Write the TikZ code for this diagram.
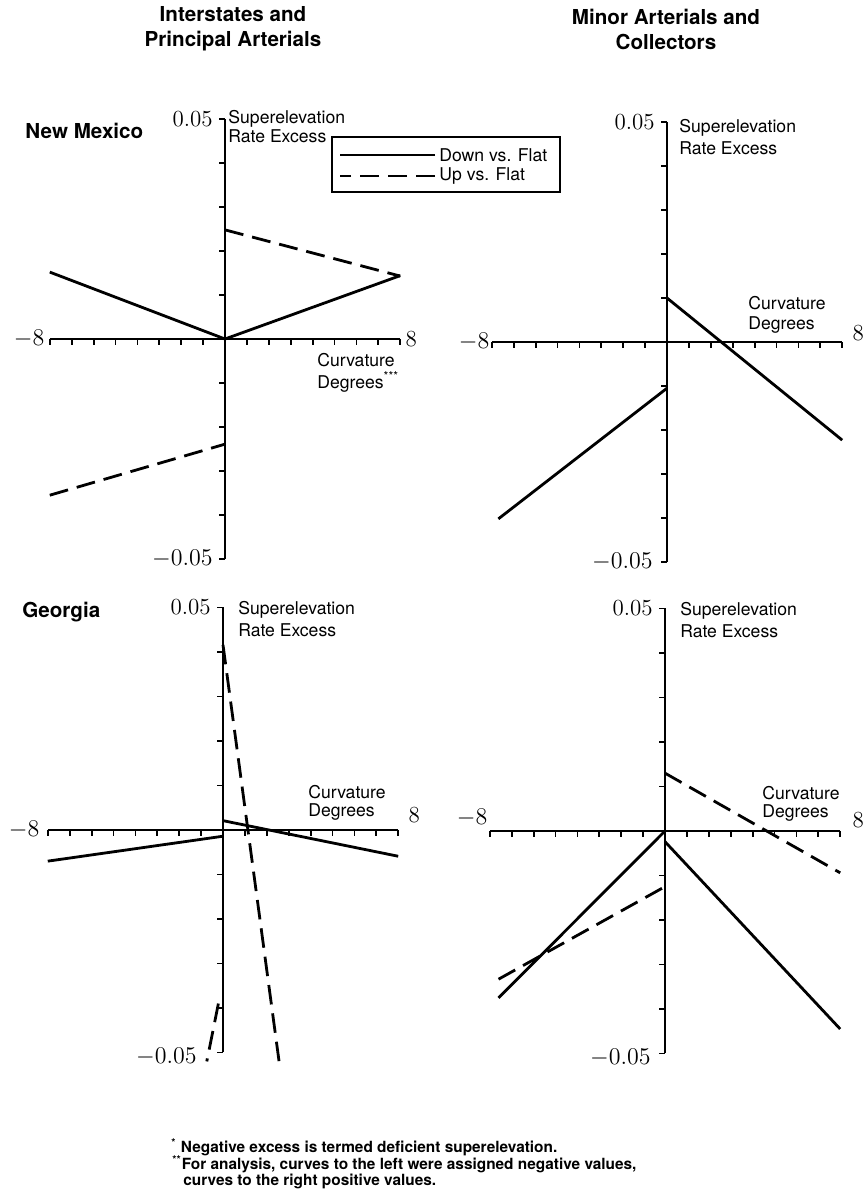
\documentclass[tikz,border=0pt]{standalone}
\usepackage{fontspec}
\newfontfamily\heros{TeX Gyre Heros}
\usepackage{tikz}
\usetikzlibrary{positioning,calc}

\begin{document}
\begin{tikzpicture}[x=0.5pt,y=0.5pt,
  axis/.style={line width=0.9pt},
  curve/.style={line width=1.4pt},
  dashcurve/.style={curve,dash pattern=on 9.5pt off 4.5pt},
  title/.style={font=\heros\bfseries\fontsize{10.3}{12.5}\selectfont,align=center},
  region/.style={font=\heros\bfseries\fontsize{10.3}{12}\selectfont,anchor=west,inner sep=0pt},
  lbl/.style={font=\heros\fontsize{8.8}{10}\selectfont,anchor=west,inner sep=0pt},
  num/.style={font=\fontsize{11.5}{13}\selectfont,inner sep=0pt},
  note/.style={font=\heros\bfseries\fontsize{7.7}{9}\selectfont,anchor=west,inner sep=0pt},
  panel tl/.style={shift={(225,862)},x=10.95pt,y=22pt},
  panel tr/.style={shift={(667,859)},x=10.95pt,y=22pt},
  panel bl/.style={shift={(223,371)},x=10.95pt,y=22.25pt},
  panel br/.style={shift={(665,370)},x=10.95pt,y=22.25pt}]

\useasboundingbox (0,0) rectangle (864,1201);

% Column titles
\node[title] (colA) at (233,1172) {Interstates and\\Principal Arterials};
\node[title] (colB) at (666,1172) {Minor Arterials and\\Collectors};

% State names
\node[region] (nm) at (25,1070) {New Mexico};
\node[region] (ga) at (22,589) {Georgia};

% Axes with ticks
\foreach \p in {tl,tr,bl,br}{
  \begin{scope}[panel \p]
    \draw[axis] (-8,0) -- (8,0);
    \draw[axis] (0,-5) -- (0,5);
    \foreach \i in {-8,...,8} \draw[axis] (\i,0) -- ++(0pt,-3pt);
    \foreach \j in {-5,...,5} \draw[axis] (0,\j) -- ++(-3pt,0pt);
  \end{scope}
}

% New Mexico, interstates
\begin{scope}[panel tl]
  \draw[curve] (-8,1.52) -- (0,0) -- (8,1.44);
  \draw[dashcurve] (0,2.48) -- (8,1.43);
  \draw[dashcurve] (-8,-3.55) -- (0,-2.39);
  \node[num,left=6pt] (tl-top) at (0,5) {0.05};
  \node[num,left=6pt] (tl-bot) at (0,-5) {$-0.05$};
  \node[num,left=2.5pt] (tl-lo) at (-8,0) {$-8$};
  \node[num,right=2.5pt] (tl-hi) at (8,0) {8};
  \node[lbl] (tl-sup) at (0.14,5) {Superelevation};
  \node[lbl] (tl-rate) at (0.14,4.61) {Rate Excess};
  \node[lbl] (tl-curv) at (4.2,-0.48) {Curvature};
  \node[lbl] (tl-deg) at (4.2,-0.98) {Degrees\textsuperscript{***}};
\end{scope}

% New Mexico, minor arterials
\begin{scope}[panel tr]
  \draw[curve] (0,1.0) -- (8,-2.23);
  \draw[curve] (-7.7,-4.02) -- (0,-1.05);
  \node[num,left=6pt] (tr-top) at (0,5) {0.05};
  \node[num,left=7pt] (tr-bot) at (0,-5) {$-0.05$};
  \node[num,left=1pt] (tr-lo) at (-8,0) {$-8$};
  \node[num,right=5pt] (tr-hi) at (8,0.2) {8};
  \node[lbl] (tr-sup) at (0.55,4.86) {Superelevation};
  \node[lbl] (tr-rate) at (0.55,4.41) {Rate Excess};
  \node[lbl] (tr-curv) at (3.7,0.89) {Curvature};
  \node[lbl] (tr-deg) at (3.7,0.39) {Degrees};
\end{scope}

% Georgia, interstates
\begin{scope}[panel bl]
  \draw[curve] (-8,-0.70) -- (0,-0.14);
  \draw[curve] (0,0.21) -- (8,-0.59);
  \draw[dashcurve,dash pattern=on 9.8pt off 4.5pt] (0,4.16) -- (2.56,-5.2);
  \draw[dashcurve] (-0.21,-3.9) -- (-0.74,-5.2);
  \node[num,left=6pt] (bl-top) at (0,5) {0.05};
  \node[num,left=13pt] (bl-bot) at (0,-5.1) {$-0.05$};
  \node[num,left=4pt] (bl-lo) at (-8,0) {$-8$};
  \node[num,right=5pt] (bl-hi) at (8,0.34) {8};
  \node[lbl] (bl-sup) at (0.68,4.95) {Superelevation};
  \node[lbl] (bl-rate) at (0.68,4.48) {Rate Excess};
  \node[lbl] (bl-curv) at (3.88,0.86) {Curvature};
  \node[lbl] (bl-deg) at (3.88,0.41) {Degrees};
\end{scope}

% Georgia, minor arterials
\begin{scope}[panel br]
  \draw[curve] (-7.6,-3.75) -- (0,0);
  \draw[curve] (0,-0.24) -- (8,-4.45);
  \draw[dashcurve] (0,1.30) -- (8,-0.94);
  \draw[dashcurve] (-7.6,-3.33) -- (0,-1.25);
  \node[num,left=6pt] (br-top) at (0,5) {0.05};
  \node[num,left=7pt] (br-bot) at (0,-5.1) {$-0.05$};
  \node[num,left=1pt] (br-lo) at (-8,0.3) {$-8$};
  \node[num,right=6pt] (br-hi) at (8,0.25) {8};
  \node[lbl] (br-sup) at (0.68,4.95) {Superelevation};
  \node[lbl] (br-rate) at (0.68,4.48) {Rate Excess};
  \node[lbl] (br-curv) at (4.43,0.86) {Curvature};
  \node[lbl] (br-deg) at (4.43,0.41) {Degrees};
\end{scope}

% Legend
\draw[axis] (332,1064) rectangle (560,1009);
\node[lbl] (legDown) at (439,1046) {Down vs. Flat};
\node[lbl] (legUp) at (439,1025) {Up vs. Flat};
\draw[curve] ([xshift=-2pt]legDown.west) -- ++(-47.5pt,0pt);
\draw[dashcurve] ([xshift=-2pt]legUp.west) -- ++(-47.5pt,0pt);

% Footnotes
\node[note] (fn1) at (171,54) {\textsuperscript{*} Negative excess is termed deficient superelevation.};
\node[note] (fn2) at (172,37) {\textsuperscript{**}For analysis, curves to the left were assigned negative values,};
\node[note] (fn3) at (183,20) {curves to the right positive values.};
\end{tikzpicture}
\end{document}
